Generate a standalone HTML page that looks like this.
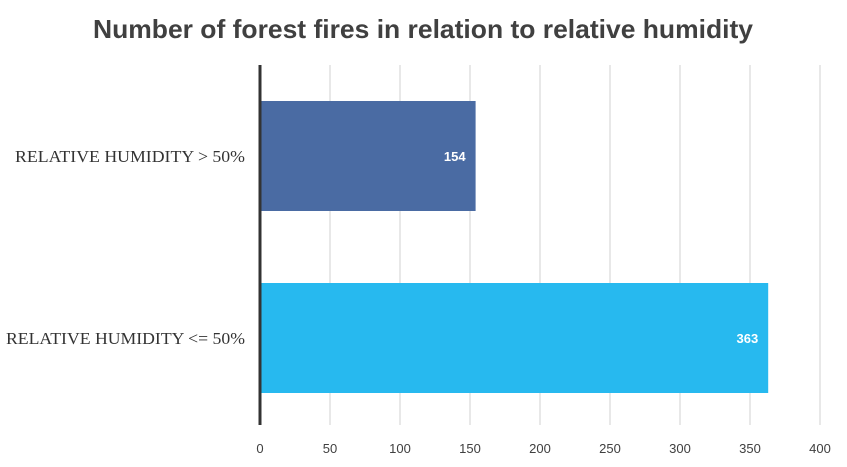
<!DOCTYPE html>
<html><head><meta charset="utf-8"><style>
body{margin:0;background:#fff;}
svg{display:block;}
</style></head><body>
<svg id="chart" width="847" height="467" xmlns="http://www.w3.org/2000/svg">
<text x="423" y="38" text-anchor="middle" textLength="660" lengthAdjust="spacingAndGlyphs" font-family="Liberation Sans, sans-serif" font-weight="bold" font-size="26" fill="#404040">Number of forest fires in relation to relative humidity</text>
<g id="grid"></g><g id="bars"></g><g id="labels"></g>
</svg>
<script>
const categories = ["RELATIVE HUMIDITY > 50%", "RELATIVE HUMIDITY <= 50%"];
const values = [154, 363];
const colors = ["#4a6ba3", "#27b9ef"];
const ticks = [0, 50, 100, 150, 200, 250, 300, 350, 400];
const labelWidths = [230, 239];
const NS = "http://www.w3.org/2000/svg";
const x0 = 260, x1 = 820, xmax = 400;
const xs = v => x0 + (v / xmax) * (x1 - x0);
const bandTop = 65, bandH = 182;
function mk(tag, attrs, parent){const e=document.createElementNS(NS,tag);for(const k in attrs)e.setAttribute(k,attrs[k]);parent.appendChild(e);return e;}
const grid = document.getElementById('grid'), bars = document.getElementById('bars'), labels = document.getElementById('labels');
ticks.forEach(t => {
  const l = mk('line', {x1:xs(t), x2:xs(t), y1:65, y2:425, stroke:'#d0d0d0', 'stroke-width':1}, grid);
  
  
  const tx = mk('text', {x:xs(t), y:453, 'text-anchor':'middle', 'font-family':'Liberation Sans, sans-serif', 'font-size':13, fill:'#404040'}, labels);
  tx.textContent = t;
  
  
});
categories.forEach((c, i) => {
  const yc = bandTop + bandH * i + bandH / 2;
  const h = 110;
  const r = mk('rect', {x:x0, y:yc - h/2, width:xs(values[i]) - x0, height:h, fill:colors[i]}, bars);
  
  
  const v = mk('text', {x:xs(values[i]) - 10, y:yc + 5, 'text-anchor':'end', 'font-family':'Liberation Sans, sans-serif', 'font-weight':'bold', 'font-size':13, fill:'#fff'}, labels);
  v.textContent = values[i];
  
  
  const cl = mk('text', {x:245 - labelWidths[i], y:yc + 6, textLength:labelWidths[i], lengthAdjust:'spacingAndGlyphs', 'font-family':'Liberation Serif, serif', 'font-size':17, fill:'#333'}, labels);
  cl.textContent = c;
  
  
});
const ax = mk('line', {x1:260, x2:260, y1:65, y2:425, stroke:'#333', 'stroke-width':3}, labels);


</script>
</body></html>
